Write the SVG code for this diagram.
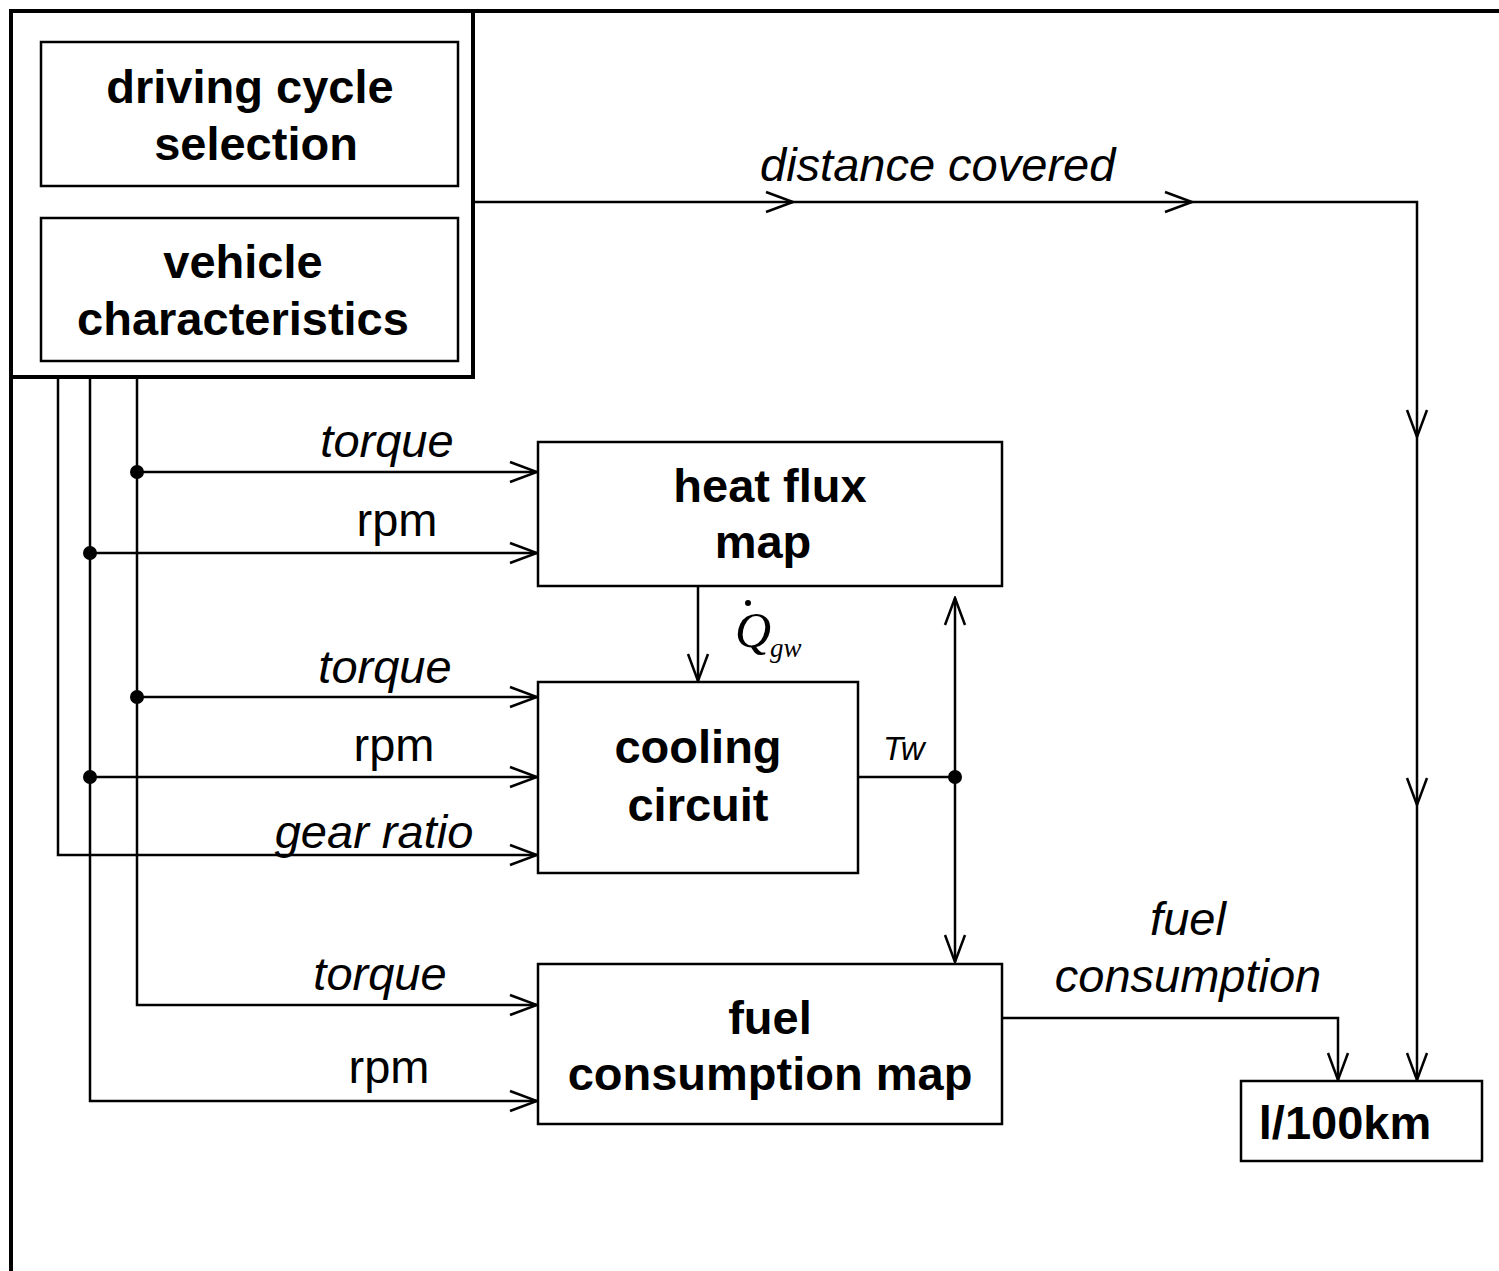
<svg xmlns="http://www.w3.org/2000/svg" width="1499" height="1271" viewBox="0 0 1499 1271">
<defs>
<style>
.b{font-family:"Liberation Sans",Arial,sans-serif;font-weight:bold;font-size:47px;fill:#000;text-anchor:middle}
.i{font-family:"Liberation Sans",Arial,sans-serif;font-style:italic;font-size:47px;fill:#000}
.r{font-family:"Liberation Sans",Arial,sans-serif;font-size:47px;fill:#000;text-anchor:middle}
.box{fill:none;stroke:#000;stroke-width:2.5}
.ln{fill:none;stroke:#000;stroke-width:2.5}
.ah{fill:none;stroke:#000;stroke-width:2.5;stroke-linejoin:miter}
</style>
<marker id="arr" viewBox="0 0 30 24" refX="28" refY="12" markerWidth="30" markerHeight="24" markerUnits="userSpaceOnUse" orient="auto-start-reverse">
<path d="M1,2 L28,12 L1,22" fill="none" stroke="#000" stroke-width="2.5"/>
</marker>
</defs>
<rect width="1499" height="1271" fill="#fff"/>

<g id="frame">
<line x1="10" y1="11" x2="1499" y2="11" stroke="#000" stroke-width="4"/>
<line x1="11" y1="10" x2="11" y2="1271" stroke="#000" stroke-width="4"/>
<rect x="11" y="11" width="462" height="366" fill="none" stroke="#000" stroke-width="4"/>
</g>

<g id="driving-cycle">
<rect class="box" x="41" y="42" width="417" height="144"/>
<text class="b" x="250" y="103">driving cycle</text>
<text class="b" x="256" y="160">selection</text>
</g>
<g id="vehicle">
<rect class="box" x="41" y="218" width="417" height="143"/>
<text class="b" x="243" y="278">vehicle</text>
<text class="b" x="243" y="335">characteristics</text>
</g>
<g id="heat-flux">
<rect class="box" x="538" y="442" width="464" height="144"/>
<text class="b" x="770" y="502">heat flux</text>
<text class="b" x="763" y="558">map</text>
</g>
<g id="cooling">
<rect class="box" x="538" y="682" width="320" height="191"/>
<text class="b" x="698" y="763">cooling</text>
<text class="b" x="698" y="821">circuit</text>
</g>
<g id="fuel-map">
<rect class="box" x="538" y="964" width="464" height="160"/>
<text class="b" x="770" y="1034">fuel</text>
<text class="b" x="770" y="1090">consumption map</text>
</g>
<g id="l100km">
<rect class="box" x="1241" y="1081" width="241" height="80"/>
<text class="b" x="1345" y="1139">l/100km</text>
</g>

<g id="connectors">
<polyline class="ln" points="58,377 58,855 537,855" marker-end="url(#arr)"/>
<polyline class="ln" points="90,377 90,1101 537,1101" marker-end="url(#arr)"/>
<polyline class="ln" points="137,377 137,1005 537,1005" marker-end="url(#arr)"/>
<line class="ln" x1="137" y1="472" x2="537" y2="472" marker-end="url(#arr)"/>
<line class="ln" x1="90" y1="553" x2="537" y2="553" marker-end="url(#arr)"/>
<line class="ln" x1="137" y1="697" x2="537" y2="697" marker-end="url(#arr)"/>
<line class="ln" x1="90" y1="777" x2="537" y2="777" marker-end="url(#arr)"/>
<circle cx="137" cy="472" r="7"/>
<circle cx="90" cy="553" r="7"/>
<circle cx="137" cy="697" r="7"/>
<circle cx="90" cy="777" r="7"/>
<line class="ln" x1="698" y1="586" x2="698" y2="681" marker-end="url(#arr)"/>
<line class="ln" x1="858" y1="777" x2="955" y2="777"/>
<circle cx="955" cy="777" r="7"/>
<line class="ln" x1="955" y1="598" x2="955" y2="962" marker-start="url(#arr)" marker-end="url(#arr)"/>
<polyline class="ln" points="473,202 1417,202 1417,1080" marker-end="url(#arr)"/>
<path class="ah" d="M766,192 L793,202 L766,212"/>
<path class="ah" d="M1165,192 L1192,202 L1165,212"/>
<path class="ah" d="M1407,410 L1417,437 L1427,410"/>
<path class="ah" d="M1407,778 L1417,805 L1427,778"/>
<polyline class="ln" points="1002,1018 1338,1018 1338,1080" marker-end="url(#arr)"/>
</g>

<g id="labels">
<text class="i" x="760" y="181">distance covered</text>
<text class="i" x="387" y="457" text-anchor="middle">torque</text>
<text class="r" x="397" y="536">rpm</text>
<text class="i" x="385" y="683" text-anchor="middle">torque</text>
<text class="r" x="394" y="761">rpm</text>
<text class="i" x="374" y="848" text-anchor="middle">gear ratio</text>
<text class="i" x="380" y="990" text-anchor="middle">torque</text>
<text class="r" x="389" y="1083">rpm</text>
<text class="i" x="1188" y="935" text-anchor="middle">fuel</text>
<text class="i" x="1188" y="992" text-anchor="middle">consumption</text>
<text class="i" x="883" y="760" style="font-size:33px">Tw</text>
<text x="735" y="647" style="font-family:'Liberation Serif','Times New Roman',serif;font-style:italic;font-size:50px">Q</text>
<circle cx="748" cy="603" r="3"/>
<text x="770" y="657" style="font-family:'Liberation Serif','Times New Roman',serif;font-style:italic;font-size:27px">gw</text>
</g>
</svg>
